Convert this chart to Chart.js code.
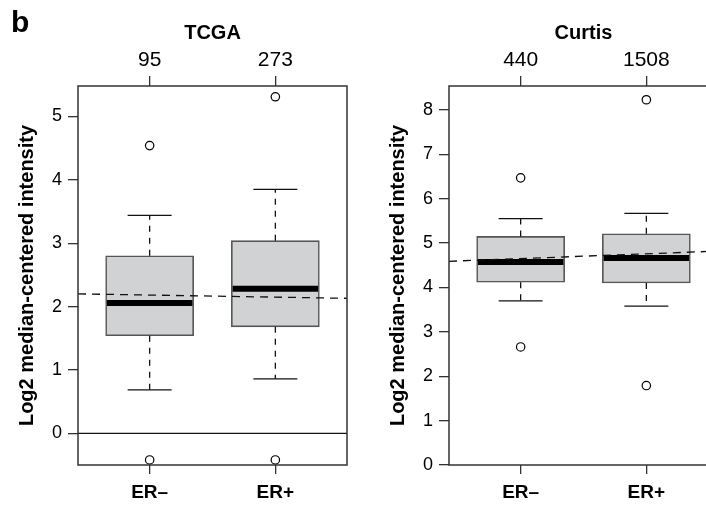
<!DOCTYPE html>
<html><head><meta charset="utf-8">
<script src="https://cdn.jsdelivr.net/npm/chart.js@4.4.0/dist/chart.umd.min.js"></script>
<style>
html,body{margin:0;padding:0;background:#fff;overflow:hidden;width:706px;height:508px;}
#wrap{position:relative;width:706px;height:508px;overflow:hidden;background:#fff;}
.panel{position:absolute;top:0;width:353px;height:508px;}
#p1{left:0}
#p2{left:371px}
#lab{position:absolute;left:11px;top:7px;font:bold 30px "Liberation Sans",Arial,sans-serif;line-height:30px;color:#000;}
</style></head><body>
<div id="wrap">
  <div class="panel" id="p1"><canvas id="c1" width="353" height="508"></canvas></div>
  <div class="panel" id="p2"><canvas id="c2" width="353" height="508"></canvas></div>
  <div id="lab">b</div>
</div>
<script>
// ---------- data ----------
const categories = ['ER\u2013', 'ER+'];
const categoryPositions = [1, 2];
const xRange = [0.43, 2.57];

const tcgaTitle = 'TCGA';
const tcgaCounts = [95, 273];
const tcgaWhiskLow = [0.685, 0.86];
const tcgaQ1 = [1.54, 1.68];
const tcgaMedian = [2.055, 2.28];
const tcgaQ3 = [2.80, 3.04];
const tcgaWhiskHigh = [3.44, 3.85];
const tcgaOutliers = [[4.54, -0.42], [5.31, -0.42]];
const tcgaTrend = [2.20, 2.13];      // dashed fit line, y at the two x-range ends
const tcgaYRange = [-0.50, 5.48];
const tcgaYTicks = [0, 1, 2, 3, 4, 5];
const tcgaRefLine = 0;

const curtisTitle = 'Curtis';
const curtisCounts = [440, 1508];
const curtisWhiskLow = [3.70, 3.58];
const curtisQ1 = [4.12, 4.10];
const curtisMedian = [4.575, 4.665];
const curtisQ3 = [5.15, 5.21];
const curtisWhiskHigh = [5.55, 5.67];
const curtisOutliers = [[6.47, 2.66], [8.23, 1.79]];
const curtisTrend = [4.59, 4.82];
const curtisYRange = [0, 8.54];
const curtisYTicks = [0, 1, 2, 3, 4, 5, 6, 7, 8];

const yTitle = 'Log2 median-centered intensity';
const F = '"Liberation Sans", Arial, Helvetica, sans-serif';

// style constants (not data)
const BOX_PX = 88;
const HALF_BOX = 0.35;   // median half-width in x units
const HALF_CAP = 0.175;  // whisker cap half-width in x units

function buildDatasets(p) {
  const ds = [];
  if (p.refLine !== undefined) {
    ds.push({type:'line', data:[{x:xRange[0], y:p.refLine},{x:xRange[1], y:p.refLine}],
      borderColor:'#111', borderWidth:1.2, pointRadius:0, order:6});
  }
  ds.push({type:'bar', data: categoryPositions.map((c,i)=>({x:c, y:[p.q1[i], p.q3[i]]})),
    backgroundColor:'#d1d2d4', borderColor:'#555', borderWidth:1.6, borderSkipped:false,
    barThickness:BOX_PX, grouped:false, order:5});
  categoryPositions.forEach((c,i)=>{
    ds.push({type:'line', data:[{x:c,y:p.q3[i]},{x:c,y:p.whiskHigh[i]}], borderColor:'#111',
      borderWidth:1.3, borderDash:[6,6], pointRadius:0, order:4});
    ds.push({type:'line', data:[{x:c,y:p.q1[i]},{x:c,y:p.whiskLow[i]}], borderColor:'#111',
      borderWidth:1.3, borderDash:[6,6], pointRadius:0, order:4});
    ds.push({type:'line', data:[{x:c-HALF_CAP,y:p.whiskHigh[i]},{x:c+HALF_CAP,y:p.whiskHigh[i]}],
      borderColor:'#111', borderWidth:1.3, pointRadius:0, order:4});
    ds.push({type:'line', data:[{x:c-HALF_CAP,y:p.whiskLow[i]},{x:c+HALF_CAP,y:p.whiskLow[i]}],
      borderColor:'#111', borderWidth:1.3, pointRadius:0, order:4});
    ds.push({type:'line', data:[{x:c-HALF_BOX+0.01,y:p.median[i]},{x:c+HALF_BOX-0.01,y:p.median[i]}],
      borderColor:'#000', borderWidth:6, borderCapStyle:'butt', pointRadius:0, order:2});
    ds.push({type:'scatter', data:p.outliers[i].map(v=>({x:c, y:v})), pointRadius:4.2,
      pointBackgroundColor:'#fff', pointBorderColor:'#000', pointBorderWidth:1.2, showLine:false, order:1});
  });
  ds.push({type:'line', data:[{x:xRange[0], y:p.trend[0]},{x:xRange[1], y:p.trend[1]}],
    borderColor:'#111', borderWidth:1.3, borderDash:[8,6], pointRadius:0, order:0});
  return ds;
}

const frame = {
  id:'frame',
  afterDraw(chart){
    const {ctx, chartArea:a} = chart;
    ctx.save();
    ctx.strokeStyle = '#333';
    ctx.lineWidth = 1.5;
    ctx.strokeRect(a.left, a.top, a.right - a.left, a.bottom - a.top);
    ctx.restore();
  }
};

function tickGrid(len){
  return {display:true, offset:false, drawOnChartArea:false, drawTicks:true, tickLength:len, color:'#333', lineWidth:1.3};
}

function makeChart(id, p) {
  new Chart(document.getElementById(id), {
    type:'scatter',
    data:{datasets: buildDatasets(p)},
    options:{
      responsive:false, animation:false, events:[],
      layout:{padding:{left:0, right:6, top:0, bottom:0}},
      plugins:{legend:{display:false}, tooltip:{enabled:false}},
      scales:{
        x:{type:'linear', position:'bottom', offset:false, min:xRange[0], max:xRange[1],
          afterBuildTicks:s=>{ s.ticks = categoryPositions.map(v=>({value:v})); },
          afterFit:s=>{ s.height = 43; },
          ticks:{callback:(v,i)=>categories[i], font:{family:F, size:19, weight:'bold'}, color:'#000',
            padding:7, autoSkip:false, maxRotation:0},
          grid:tickGrid(9), border:{display:false}},
        xTop:{type:'linear', position:'top', offset:false, min:xRange[0], max:xRange[1],
          afterBuildTicks:s=>{ s.ticks = categoryPositions.map(v=>({value:v})); },
          afterFit:s=>{ s.height = 86; },
          ticks:{callback:(v,i)=>String(p.counts[i]), font:{family:F, size:21}, color:'#000',
            padding:3, autoSkip:false, maxRotation:0},
          grid:tickGrid(10), border:{display:false},
          title:{display:true, text:p.title, color:'#000', font:{family:F, size:20, weight:'bold'},
            padding:{top:21, bottom:0}}},
        y:{type:'linear', position:'left', beginAtZero:false, min:p.yRange[0], max:p.yRange[1],
          afterBuildTicks:s=>{ s.ticks = p.yTicks.map(v=>({value:v})); },
          afterFit:s=>{ s.width = 78; },
          ticks:{font:{family:F, size:18}, color:'#000', padding:6},
          grid:tickGrid(10), border:{display:false},
          title:{display:true, text:yTitle, color:'#000', font:{family:F, size:20, weight:'bold'},
            padding:{top:15, bottom:0}}}
      }
    },
    plugins:[frame]
  });
}

makeChart('c1', {title:tcgaTitle, counts:tcgaCounts, whiskLow:tcgaWhiskLow, q1:tcgaQ1, median:tcgaMedian,
  q3:tcgaQ3, whiskHigh:tcgaWhiskHigh, outliers:tcgaOutliers, trend:tcgaTrend, yRange:tcgaYRange,
  yTicks:tcgaYTicks, refLine:tcgaRefLine});
makeChart('c2', {title:curtisTitle, counts:curtisCounts, whiskLow:curtisWhiskLow, q1:curtisQ1, median:curtisMedian,
  q3:curtisQ3, whiskHigh:curtisWhiskHigh, outliers:curtisOutliers, trend:curtisTrend, yRange:curtisYRange,
  yTicks:curtisYTicks});
</script>
</body></html>
